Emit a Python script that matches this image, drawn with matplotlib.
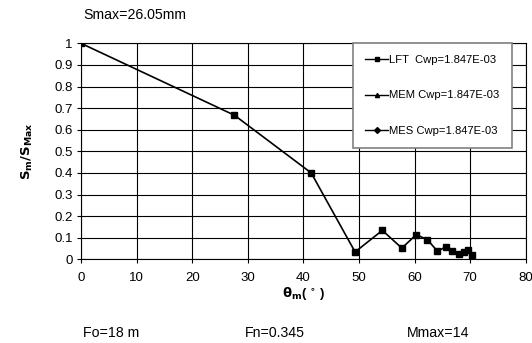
import matplotlib
matplotlib.use("Agg")
import matplotlib.pyplot as plt
from matplotlib.lines import Line2D

plt.rcParams["font.family"] = ["Liberation Sans", "DejaVu Sans"]

# LFT series (theta_m in degrees, S_m/S_max)
theta_m = [0, 27.6, 41.4, 49.3, 54.2, 57.7, 60.3, 62.3, 64.1, 65.6, 66.8, 67.9, 68.8, 69.6, 70.3]
s_ratio = [1.0, 0.667, 0.40, 0.034, 0.134, 0.052, 0.114, 0.091, 0.038, 0.057, 0.038, 0.025, 0.032, 0.045, 0.022]

legend_labels = ["LFT  Cwp=1.847E-03", "MEM Cwp=1.847E-03", "MES Cwp=1.847E-03"]
legend_markers = ["s", "^", "D"]

x_ticks = [0, 10, 20, 30, 40, 50, 60, 70, 80]
y_ticks = [0, 0.1, 0.2, 0.3, 0.4, 0.5, 0.6, 0.7, 0.8, 0.9, 1]
y_labels = ["0", "0.1", "0.2", "0.3", "0.4", "0.5", "0.6", "0.7", "0.8", "0.9", "1"]

fig = plt.figure(figsize=(5.32, 3.43), dpi=100)
ax = fig.add_axes([0.1523, 0.244, 0.836, 0.6297])

ax.plot(theta_m, s_ratio, color="black", linewidth=1.2, marker="s", markersize=3.8)

ax.set_xlim(0, 80)
ax.set_ylim(0, 1)
ax.set_xticks(x_ticks)
ax.set_yticks(y_ticks)
ax.set_yticklabels(y_labels)
ax.tick_params(labelsize=9.5, length=3, width=0.8, direction="out", colors="black")
ax.tick_params(axis="x", pad=6)
ax.tick_params(axis="y", pad=3)
ax.grid(True, color="black", linewidth=0.8)
ax.set_axisbelow(True)
for sp in ax.spines.values():
    sp.set_color("black")
    sp.set_linewidth(0.8)

ax.set_xlabel(r"$\mathbf{\theta_m}$( $\mathbf{^{\circ}}$ )", fontsize=9.5, fontweight="bold", labelpad=1)
ax.set_ylabel(r"$\mathbf{S_m/S_{Max}}$", fontsize=9.5, fontweight="bold", labelpad=14)

handles = [Line2D([0], [0], color="black", linewidth=1, marker=m, markersize=3) for m in legend_markers]
leg = ax.legend(handles, legend_labels, loc="upper right", bbox_to_anchor=(0.968, 1.0),
                fontsize=8.1, frameon=True, fancybox=False, shadow=False,
                labelspacing=2.25, handlelength=2.0, handletextpad=0.15, borderpad=1.05,
                borderaxespad=0)
leg.get_frame().set_edgecolor("#808080")
leg.get_frame().set_linewidth(1.2)
leg.get_frame().set_facecolor("white")
leg.get_frame().set_alpha(1)

fig.text(83 / 532, 1 - 15 / 343, "Smax=26.05mm", fontsize=10.2, ha="left", va="center")
fig.text(83 / 532, 1 - 333 / 343, "Fo=18 m", fontsize=10.2, ha="left", va="center")
fig.text(245 / 532, 1 - 333 / 343, "Fn=0.345", fontsize=10.2, ha="left", va="center")
fig.text(407 / 532, 1 - 333 / 343, "Mmax=14", fontsize=10.2, ha="left", va="center")

fig.savefig("out.png", dpi=100)
